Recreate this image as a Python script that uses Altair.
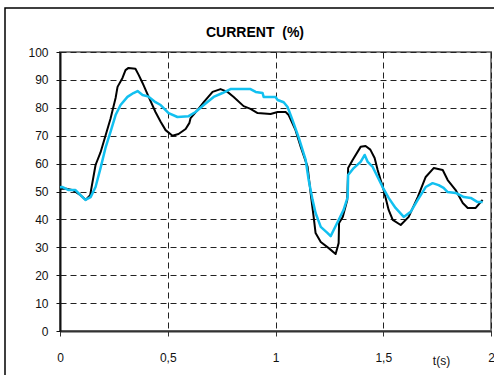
import altair as alt
import pandas as pd

# Measured current, black trace
t_black = [0.0, 0.03, 0.06, 0.09, 0.119, 0.14, 0.165, 0.188, 0.211, 0.234, 0.258, 0.267,
           0.29, 0.304, 0.318, 0.35, 0.365, 0.383, 0.411, 0.443, 0.467, 0.49, 0.522, 0.55,
           0.583, 0.6, 0.606, 0.638, 0.667, 0.708, 0.745, 0.777, 0.806, 0.852, 0.884, 0.917,
           0.977, 1.01, 1.047, 1.061, 1.093, 1.117, 1.149, 1.163, 1.177, 1.186, 1.21, 1.247,
           1.279, 1.293, 1.295, 1.312, 1.333, 1.336, 1.337, 1.358, 1.395, 1.418, 1.44, 1.46,
           1.474, 1.502, 1.525, 1.544, 1.581, 1.618, 1.66, 1.697, 1.734, 1.776, 1.799, 1.836,
           1.869, 1.892, 1.929, 1.961]
v_black = [51, 51, 50.5, 49, 47, 48.7, 59.5, 64, 70, 76, 83.5, 87.5,
           90.7, 93.5, 94.3, 94, 91.8, 88.9, 84, 78.5, 75, 72, 70, 70.6,
           72.4, 74.5, 76.3, 79.2, 82, 85.7, 86.7, 85.7, 83.9, 80.6, 79.6, 78.1,
           77.8, 78.5, 78.5, 77.4, 72, 66, 58.8, 49.4, 40.9, 35.1, 31.9, 29.7,
           27.6, 31.5, 38.7, 40.9, 47, 54.8, 58.4, 61.3, 66, 66.3, 65, 62,
           57.7, 50.5, 43.4, 39.8, 38, 40.9, 48, 55.2, 58.4, 57.7, 54.1, 50.5,
           45.9, 44.1, 44.1, 47]

# Simulated current, cyan trace
t_cyan = [0.0, 0.012, 0.04, 0.072, 0.095, 0.118, 0.142, 0.165, 0.188, 0.211, 0.234, 0.258,
          0.281, 0.313, 0.341, 0.36, 0.383, 0.411, 0.443, 0.467, 0.49, 0.504, 0.545, 0.597,
          0.629, 0.667, 0.713, 0.754, 0.791, 0.884, 0.908, 0.94, 0.945, 0.977, 1.0, 1.01,
          1.038, 1.056, 1.079, 1.107, 1.14, 1.154, 1.172, 1.186, 1.21, 1.242, 1.256, 1.27,
          1.293, 1.316, 1.335, 1.337, 1.363, 1.395, 1.414, 1.428, 1.451, 1.474, 1.497, 1.525,
          1.557, 1.595, 1.627, 1.66, 1.697, 1.729, 1.757, 1.78, 1.799, 1.836, 1.874, 1.906,
          1.938, 1.961]
v_cyan = [51.5, 51.6, 50.5, 50.5, 48.7, 47, 48, 51.6, 58.4, 65.6, 71.3, 77.4,
          81, 83.9, 85.3, 86, 84.6, 84, 82, 81, 79.2, 78.1, 76.7, 77,
          78.5, 81, 83.9, 85.3, 86.7, 86.7, 85.7, 85.3, 83.9, 83.9, 83.9, 82.8,
          82, 80.3, 75.6, 69.5, 61.3, 54.1, 47, 42.3, 37.3, 35.1, 34, 36.2,
          39.8, 43.4, 48, 55.9, 58.4, 60.6, 63.1, 60.6, 58.8, 55.2, 51.6, 47.7,
          44.1, 40.9, 42.7, 47, 51.6, 53, 52.3, 51.3, 49.8, 49.5, 48, 47.7,
          46.2, 46.2]

x_ticks = [0, 0.5, 1, 1.5, 2]
y_ticks = list(range(0, 101, 10))
title_text = ["CURRENT\u00a0\u00a0(%)"]

FONT = "Liberation Sans"

black_df = pd.DataFrame({"t": t_black, "v": v_black, "i": range(len(t_black))})
cyan_df = pd.DataFrame({"t": t_cyan, "v": v_cyan, "i": range(len(t_cyan))})
title_df = pd.DataFrame({"label": title_text})

x_enc = alt.X(
    "t:Q",
    scale=alt.Scale(domain=[0, 2], nice=False, zero=False),
    axis=alt.Axis(
        values=x_ticks,
        labelExpr="replace(format(datum.value, '~g'), '.', ',')",
        title="t(s)",
        titleX=381,
        titleY=33,
        titleBaseline="alphabetic",
        titleAlign="center",
        titleFont=FONT,
        titleFontSize=12,
        titleFontWeight="normal",
        titleColor="#111",
        labelFont=FONT,
        labelFontSize=12,
        labelColor="#111",
        labelPadding=16,
        labelFlush=False,
        tickSize=5,
        tickColor="#333",
        domainColor="#333",
        domainWidth=2,
        grid=True,
        gridColor="#222",
        gridDash=[6, 4],
        gridWidth=1,
    ),
)

y_enc = alt.Y(
    "v:Q",
    scale=alt.Scale(domain=[0, 100], nice=False),
    axis=alt.Axis(
        values=y_ticks,
        title=None,
        labelFont=FONT,
        labelFontSize=12,
        labelColor="#111",
        labelPadding=8,
        tickSize=4,
        tickColor="#111",
        domainColor="#111",
        domainWidth=2,
        grid=True,
        gridColor="#222",
        gridDash=[6, 4],
        gridWidth=1,
    ),
)

black_line = alt.Chart(black_df).mark_line(
    color="#000000", strokeWidth=2, strokeJoin="round"
).encode(x=x_enc, y=y_enc, order="i:Q")

cyan_line = alt.Chart(cyan_df).mark_line(
    color="#12c0f0", strokeWidth=2.5, strokeJoin="round"
).encode(x=x_enc, y=y_enc, order="i:Q")

# Outer frame around the whole figure
frame = alt.Chart(title_df).mark_rect(
    fill=None, stroke="#000000", strokeWidth=1.5, clip=False
).encode(
    x=alt.value(-55), x2=alt.value(450), y=alt.value(-44), y2=alt.value(340)
)

# Chart heading above the plot area
heading = alt.Chart(title_df).mark_text(
    font=FONT, fontSize=14, fontWeight="bold", color="#000000",
    align="center", baseline="alphabetic", clip=False
).encode(text="label:N", x=alt.value(195), y=alt.value(-15))

chart = alt.layer(frame, black_line, cyan_line, heading).properties(
    width=431,
    height=279,
    padding={"left": 60, "top": 52, "right": 3, "bottom": 44},
    autosize=alt.AutoSizeParams(type="none"),
    background="white",
).configure_view(
    stroke="#808080", strokeWidth=2
)

chart.save("out.html", embed_options={"renderer": "svg", "actions": False})
